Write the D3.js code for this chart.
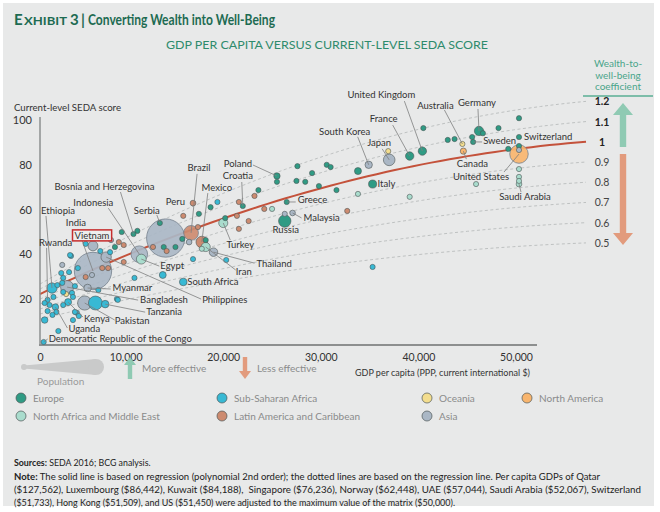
<!DOCTYPE html>
<html><head><meta charset="utf-8">
<script src="https://cdn.jsdelivr.net/npm/d3@7"></script>
<style>
body{margin:0;background:#fff;}
svg{display:block;font-family:Lato,"Open Sans",sans-serif;}
</style></head><body>
<svg id="c" width="660" height="512"></svg>
<script>
// ---------------- DATA ----------------
const xTicks = [0, 10000, 20000, 30000, 40000, 50000];
const yTicks = [20, 40, 60, 80, 100];
const coefficients = [1.2, 1.1, 1, 0.9, 0.8, 0.7, 0.6, 0.5];
// regression: score = a + b*(gdp/1000) + c*(gdp/1000)^2
const regression = [20.36, 2.121, -0.01568];
const regionNames = ["Europe", "Sub-Saharan Africa", "Oceania", "North America",
  "North Africa and Middle East", "Latin America and Caribbean", "Asia"];

// [country, GDP per capita, SEDA score, population (millions)]
const europe = [
  ["Russia",26000,54.9,144],["Germany",45900,95.1,81],["United Kingdom",40100,86.1,65],
  ["France",38800,83.9,66],["Italy",35000,71.4,61],["Poland",25200,75.0,38],
  ["Croatia",21700,61.6,4],["Serbia",13200,54.0,7],["Bosnia and Herzegovina",10500,49.1,4],
  ["Greece",26200,63.4,11],["Sweden",45300,90.2,10],["Switzerland",50000,92.4,8],
  ["",17200,58.1,5],["",18400,61.1,5],["",9300,50.0,5],["",10900,50.5,5],["",19900,56.2,5],
  ["",23300,68.7,5],["",25200,72.4,5],["",27300,79.4,5],["",28800,76.3,5],["",27200,72.8,5],
  ["",28100,72.4,5],["",30300,80.0,5],["",30700,79.0,5],["",29500,70.5,5],["",31300,68.7,5],
  ["",33500,77.2,46],["",40200,96.4,5],["",42700,91.1,5],["",43400,91.5,5],["",45200,92.4,5],
  ["",46300,94.1,10],["",47900,96.4,5],["",50000,100.8,5],["",48900,87.1,5],["",50000,88.4,5],
  ["",17900,46.4,5],["",13600,43.3,5],["",14800,43.3,5],["",15500,46.9,5],["",8600,43.3,5]
];
const subSaharanAfrica = [
  ["Nigeria",6600,18.3,182],["Ethiopia",2150,25.0,99],["Democratic Republic of the Congo",1300,0.9,20],
  ["Tanzania",7600,17.8,53],["Kenya",3800,18.7,46],["Uganda",2500,16.5,39],["Rwanda",1700,19.7,11],
  ["South Africa",15600,27.7,55],
  ["",19100,63.4,5],["",16600,37.9,5],["",20000,37.5,5],["",13500,30.8,45],["",10600,29.5,5],
  ["",8800,20.1,5],["",5600,44.7,5],["",7100,41.5,5],["",8100,41.0,5],["",4100,39.3,5],
  ["",3900,32.1,5],["",6900,24.1,5],["",35000,34.4,5],["",1400,10.7,40],["",1700,14.7,5],
  ["",1900,17.4,5],["",1400,18.3,5],["",2300,21.0,5],["",2700,26.3,5],["",3200,27.3,5],
  ["",3300,23.2,5],["",3300,29.5,5],["",3100,31.7,5],["",4000,39.7,5],["",4200,22.8,5],
  ["",3300,17.4,5],["",4300,21.0,5],["",2600,14.3,5],["",2200,13.0,5],["",4700,13.9,5],
  ["",4500,25.8,5],["",8900,19.7,5],["",2800,5.8,5],["",4500,14.3,5],["",4900,12.5,5],
  ["",4300,10.7,5],["",4800,33.9,5]
];
const oceania = [
  ["Australia",44200,89.3,24],["",36600,86.1,5],["",3600,22.3,8]
];
const northAmerica = [
  ["United States",50000,84.8,321],["Canada",44300,86.1,36]
];
const middleEast = [
  ["Egypt",11300,37.9,92],["Turkey",19700,54.0,78],["Iran",17900,43.3,79],["Saudi Arabia",50000,71.4,31],
  ["",50000,78.1,5],["",50000,74.6,5],["",50000,72.8,5],["",33500,67.0,5],["",38800,65.7,5],
  ["",45600,71.4,5],["",17500,42.5,5],["",24700,60.3,5]
];
const latinAmerica = [
  ["Brazil",16400,49.6,205],["Mexico",17500,45.5,127],["Peru",16600,62.9,31],
  ["",15600,57.2,5],["",17100,52.2,5],["",21100,57.2,5],["",21300,63.4,5],["",22900,66.1,5],
  ["",22300,54.9,5],["",21300,51.4,5],["",23900,60.3,5],["",9000,45.5,5],["",9500,44.2,5],
  ["",9500,36.6,5],["",12500,43.3,5],["",13900,41.5,5],["",32400,59.4,5],["",5600,29.9,5],
  ["",7300,33.9,5],["",7900,33.9,5]
];
const asia = [
  ["China",13800,47.3,1371],["India",6350,32.6,1311],["Indonesia",11100,40.1,258],
  ["Japan",36700,82.2,127],["South Korea",34600,80.0,51],["Vietnam",6350,43.8,92],
  ["Philippines",7700,38.8,101],["Myanmar",5800,25.0,54],["Bangladesh",3700,25.4,161],
  ["Pakistan",5500,18.3,189],["Thailand",18700,41.0,68],["Malaysia",26800,58.5,30],
  ["",8200,46.4,5],["",26000,58.1,5],["",16200,45.5,30],["",3200,35.3,5],["",50000,86.6,5],
  ["",6250,30.8,5]
];

// ---------------- STYLE / LAYOUT ----------------
const regionColors = ["#2f9b84","#38b9d4","#f3dd8e","#f8b56e","#a9dccd","#cd8b70","#aab7c5"];
const regionData = [europe, subSaharanAfrica, oceania, northAmerica, middleEast, latinAmerica, asia];
// label offsets from point: [dx, dy, anchor, leaderStartDx, leaderStartDy]
const labelLayout = {
  "United Kingdom":[-41,-53,"middle",-18,-50], "Australia":[-27,-35,"middle",-18,-34],
  "Germany":[-2,-25,"middle",-1,-22], "France":[-26,-34,"middle",-17,-31],
  "South Korea":[-24,-30,"middle",-11,-28], "Japan":[-10,-14,"middle",-7,-11],
  "Sweden":[10,2,"start",9,0], "Switzerland":[5,3,"start",null,null],
  "Canada":[9,16,"middle",3,8], "United States":[-38,26,"middle",-15,18],
  "Saudi Arabia":[6,16,"middle",2,8], "Italy":[5,3,"start",null,null],
  "Greece":[11,1,"start",9,0], "Malaysia":[11,8,"start",9,5], "Russia":[1,12,"middle",null,null],
  "Poland":[-39,-9,"middle",-24,-11], "Croatia":[-5,-27,"middle",-1,-24],
  "Mexico":[15,-51,"middle",6,-49], "Brazil":[8,-62,"middle",6,-59], "Peru":[-8,2,"end",null,null],
  "Turkey":[17,25,"middle",7,17], "Thailand":[43,15,"start",41,11], "Iran":[30,28,"start",30,23],
  "South Africa":[4,3,"start",null,null], "Philippines":[96,46,"start",95,42],
  "Egypt":[19,10,"start",18,7], "Serbia":[-13,-9,"middle",-3,-8],
  "Indonesia":[-46,-48,"middle",-31,-46], "Bosnia and Herzegovina":[-29,-44,"middle",-13,-42],
  "Ethiopia":[6,-74,"middle",-6,-72], "India":[-17,-45,"middle",-15,-42],
  "Vietnam":[-1,-7,"middle",null,null], "Rwanda":[8,-54,"middle",-1,-52],
  "Myanmar":[25,3,"start",23,1], "Bangladesh":[73,16,"start",71,13],
  "Tanzania":[41,11,"start",40,8], "Kenya":[16,20,"start",15,15],
  "Pakistan":[30,21,"start",30,17], "Uganda":[13,25,"start",12,21],
  "Democratic Republic of the Congo":[5,0,"start",4,-3]
};

// ---------------- DRAW ----------------
const svg = d3.select("#c");
svg.append("rect").attr("x",3).attr("y",3).attr("width",651).attr("height",503).attr("fill","#e8e9e9");

const x = d3.scaleLinear().domain([0,50000]).range([31,519]);
const y = d3.scaleLinear().domain([0,100]).range([344,120]);
const r = d3.scaleSqrt().domain([0,1400]).range([0,19.3]);
const radius = p => Math.max(2.6, r(p));
const reg = g => { const k = g/1000; return regression[0] + regression[1]*k + regression[2]*k*k; };

// title
const titleColor = "#1d6b52";
svg.append("text").attr("x",14).attr("y",25).attr("fill",titleColor).attr("font-weight","bold")
  .attr("font-size",15).text("E");
svg.append("text").attr("x",24).attr("y",25).attr("fill",titleColor).attr("font-weight","bold")
  .attr("font-size",11.5).attr("textLength",43).attr("lengthAdjust","spacingAndGlyphs").text("XHIBIT");
svg.append("text").attr("x",70).attr("y",25).attr("fill",titleColor).attr("font-weight","bold")
  .attr("font-size",15).text("3");
svg.append("text").attr("x",81).attr("y",25).attr("fill",titleColor).attr("font-weight","bold")
  .attr("font-size",15).text("|");
svg.append("text").attr("x",88).attr("y",25).attr("fill",titleColor).attr("font-weight","bold")
  .attr("font-size",15).attr("textLength",187).attr("lengthAdjust","spacingAndGlyphs")
  .text("Converting Wealth into Well-Being");

svg.append("text").attr("x",327).attr("y",49).attr("text-anchor","middle").attr("font-size",12)
  .attr("fill","#2e8b6c").attr("textLength",322).attr("lengthAdjust","spacingAndGlyphs")
  .text("GDP PER CAPITA VERSUS CURRENT-LEVEL SEDA SCORE");

svg.append("text").attr("x",14).attr("y",111).attr("font-size",9.5).attr("fill","#333")
  .attr("textLength",107).attr("lengthAdjust","spacingAndGlyphs").text("Current-level SEDA score");

// coefficient lines
const gStart = x.invert(40), gEnd = x.invert(586);
const samples = d3.range(0, 61).map(i => gStart + (gEnd - gStart) * i / 60);
const line = d3.line().x(d => x(d[0])).y(d => y(d[1]));
coefficients.filter(k => k !== 1).forEach(k => {
  svg.append("path").attr("d", line(samples.map(g => [g, k*reg(g)])))
    .attr("fill","none").attr("stroke","#b9bcbc").attr("stroke-width",0.9).attr("stroke-dasharray","3,2.5");
});
svg.append("path").attr("d", line(samples.map(g => [g, reg(g)])))
  .attr("fill","none").attr("stroke","#c4523b").attr("stroke-width",2);

// coefficient labels
svg.selectAll(".coef").data(coefficients).enter().append("text")
  .attr("x",602).attr("y",k => y(k*reg(gEnd)) + 4).attr("text-anchor","middle")
  .attr("font-size",10.5).attr("font-weight",k => k >= 1 ? "bold" : "normal")
  .attr("fill",k => k >= 1 ? "#222" : "#444").text(k => k);

// coefficient header
["Wealth-to-","well-being","coefficient"].forEach((s,i) => {
  svg.append("text").attr("x",618).attr("y",67+i*11.5).attr("text-anchor","middle")
    .attr("font-size",10).attr("fill","#4aa58a").text(s);
});
svg.append("line").attr("x1",583).attr("x2",653).attr("y1",96).attr("y2",96)
  .attr("stroke","#5aae93").attr("stroke-width",1.5);

function arrow(cx, top, bottom, up, color, hw, sw, hl) {
  let pts;
  if (up) pts = [[cx,top],[cx+hw,top+hl],[cx+sw,top+hl],[cx+sw,bottom],[cx-sw,bottom],[cx-sw,top+hl],[cx-hw,top+hl]];
  else pts = [[cx,bottom],[cx+hw,bottom-hl],[cx+sw,bottom-hl],[cx+sw,top],[cx-sw,top],[cx-sw,bottom-hl],[cx-hw,bottom-hl]];
  svg.append("polygon").attr("points",pts.map(p=>p.join(",")).join(" ")).attr("fill",color);
}
arrow(623,103,147,true,"#8fcab3",10,3.2,12);
arrow(623,154,245,false,"#e29b7d",10,3.2,12);

// axes
const gx = svg.append("g").attr("transform","translate(0,345)")
  .call(d3.axisBottom(x).tickValues(xTicks).tickFormat(d3.format(",")).tickSize(0).tickPadding(9));
gx.select(".domain").remove();
gx.selectAll("text").attr("font-size",10.5).attr("fill","#333").attr("font-family","Lato,sans-serif")
  .attr("dx", d => d === 0 ? 9 : -3);
const gy = svg.append("g").attr("transform","translate(40,0)")
  .call(d3.axisLeft(y).tickValues(yTicks).tickSize(0).tickPadding(8));
gy.select(".domain").remove();
gy.selectAll("text").attr("font-size",11).attr("fill","#333").attr("font-family","Lato,sans-serif");
svg.append("line").attr("x1",40).attr("x2",40).attr("y1",117).attr("y2",345).attr("stroke","#8d8f8f").attr("stroke-width",1.5);
svg.append("line").attr("x1",39).attr("x2",537).attr("y1",345).attr("y2",345).attr("stroke","#8d8f8f").attr("stroke-width",2);

svg.append("text").attr("x",530).attr("y",376).attr("text-anchor","end").attr("font-size",9.5)
  .attr("fill","#333").attr("textLength",175).attr("lengthAdjust","spacingAndGlyphs")
  .text("GDP per capita (PPP, current international $)");

// points
const points = [];
regionData.forEach((arr, ri) => arr.forEach(d => points.push({name:d[0], gdp:d[1], score:d[2], pop:d[3], ri})));
points.sort((a,b) => b.pop - a.pop);
svg.append("g").selectAll("circle").data(points).enter().append("circle")
  .attr("cx", d => x(d.gdp)).attr("cy", d => y(d.score)).attr("r", d => radius(d.pop))
  .attr("fill", d => regionColors[d.ri])
  .attr("fill-opacity", d => d.pop > 200 ? 0.92 : 1)
  .attr("stroke", d => d.pop > 200 ? "#76828e" : "#4d5656").attr("stroke-width", d => d.pop > 200 ? 0.8 : 0.6);

// labels
const labeled = points.filter(d => labelLayout[d.name]);
labeled.forEach(d => {
  const L = labelLayout[d.name];
  const px = x(d.gdp), py = y(d.score);
  if (L[3] !== null) {
    svg.append("line").attr("x1",px+L[3]).attr("y1",py+L[4]).attr("x2",px).attr("y2",py)
      .attr("stroke","#7d7f7f").attr("stroke-width",0.8);
  }
});
labeled.forEach(d => {
  const L = labelLayout[d.name];
  const px = x(d.gdp), py = y(d.score);
  const tx = svg.append("text").attr("x",px+L[0]).attr("y",py+L[1]).attr("text-anchor",L[2])
    .attr("font-size",9.5).attr("fill","#333").text(d.name);
  if (d.name === "Vietnam") {
    const bb = tx.node().getBBox();
    svg.insert("rect", () => tx.node()).attr("x",bb.x-2).attr("y",bb.y).attr("width",bb.width+4).attr("height",bb.height)
      .attr("fill","#eeeeee").attr("stroke","#c62d2d").attr("stroke-width",1.5);
  }
});

// legend: population
svg.append("polygon").attr("points","24,365.5 96,359 96,375 24,368.5").attr("fill","#c9caca");
svg.append("circle").attr("cx",24).attr("cy",367).attr("r",3).attr("fill","#c9caca");
svg.append("circle").attr("cx",96).attr("cy",367).attr("r",8).attr("fill","#c9caca");
svg.append("text").attr("x",37).attr("y",385).attr("font-size",10).attr("fill","#9a9b9b").text("Population");
arrow(130,357,379,true,"#8fcab3",6,2.2,8);
svg.append("text").attr("x",142).attr("y",372).attr("font-size",10).attr("fill","#8a8b8b").text("More effective");
arrow(245,357,379,false,"#e29b7d",6,2.2,8);
svg.append("text").attr("x",257).attr("y",372).attr("font-size",10).attr("fill","#8a8b8b").text("Less effective");

const legendPos = [[21,398],[222,398],[427,398],[527,398],[21,416],[222,416],[427,416]];
regionNames.forEach((n,i) => {
  svg.append("circle").attr("cx",legendPos[i][0]).attr("cy",legendPos[i][1]).attr("r",5)
    .attr("fill",regionColors[i]).attr("stroke","#4d5656").attr("stroke-width",0.7);
  svg.append("text").attr("x",legendPos[i][0]+12).attr("y",legendPos[i][1]+3.5)
    .attr("font-size",10).attr("fill","#8a8b8b").text(n);
});

// footer
const src = svg.append("text").attr("x",14).attr("y",466).attr("font-size",8.8).attr("fill","#222");
src.append("tspan").attr("font-weight","bold").text("Sources:");
src.append("tspan").text(" SEDA 2016; BCG analysis.");
const noteLines = [
  ["Note:"," The solid line is based on regression (polynomial 2nd order); the dotted lines are based on the regression line. Per capita GDPs of Qatar", 586],
  ["","($127,562), Luxembourg ($86,442), Kuwait ($84,188),  Singapore ($76,236), Norway ($62,448), UAE ($57,044), Saudi Arabia ($52,067), Switzerland", 627],
  ["","($51,733), Hong Kong ($51,509), and US ($51,450) were adjusted to the maximum value of the matrix ($50,000).", 441]
];
noteLines.forEach((l,i) => {
  const tt = svg.append("text").attr("x",14).attr("y",480+i*13).attr("font-size",8.8).attr("fill","#222")
    .attr("textLength",l[2]).attr("lengthAdjust","spacingAndGlyphs").attr("xml:space","preserve");
  if (l[0]) tt.append("tspan").attr("font-weight","bold").text(l[0]);
  tt.append("tspan").text(l[1]);
});
</script>
</body></html>
